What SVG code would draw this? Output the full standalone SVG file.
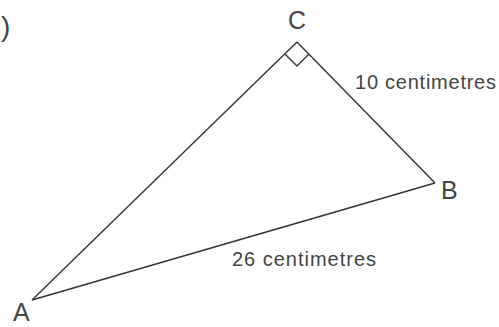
<svg xmlns="http://www.w3.org/2000/svg" width="499" height="327" viewBox="0 0 499 327">
<style>
text{font-family:"Liberation Sans",Arial,sans-serif;fill:#444}
.e{fill:none;stroke:#333;stroke-width:1.4;stroke-linejoin:miter}
.lbl{font-size:25px}
.len{font-size:20px}
</style>
<rect width="499" height="327" fill="#fff"/>
<text x="1" y="36" font-size="28">)</text>
<g id="connectors">
<path id="edge-CA" class="e" d="M297,42 L32,300"/>
<path id="edge-CB" class="e" d="M297,42 L435,183"/>
<path id="edge-AB" class="e" d="M32,300 L435,183"/>
<path id="right-angle" class="e" d="M285,54 L297,66 L309,54"/>
</g>
<g id="node-C"><text x="297" y="29" class="lbl" text-anchor="middle">C</text></g>
<g id="node-B"><text x="441" y="199" class="lbl">B</text></g>
<g id="node-A"><text x="13" y="321" class="lbl">A</text></g>
<g id="label-CB"><text x="355" y="89" class="len" textLength="141">10 centimetres</text></g>
<g id="label-AB"><text x="232" y="266" class="len" textLength="144">26 centimetres</text></g>
</svg>
